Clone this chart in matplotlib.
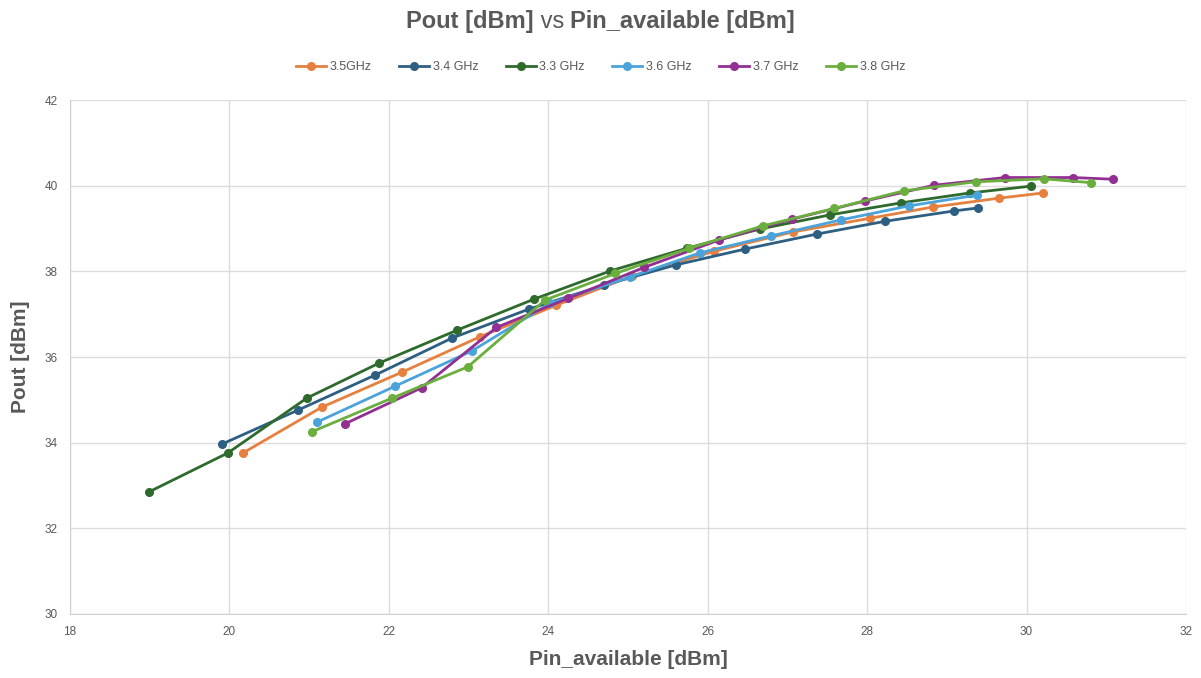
import matplotlib
matplotlib.use("Agg")
import matplotlib.pyplot as plt

# Pin_available [dBm] / Pout [dBm] sweeps per frequency
pin_35 = [20.17, 21.16, 22.17, 23.14, 24.10, 25.05, 26.08, 27.07, 28.04, 28.82, 29.66, 30.21]
pout_35 = [33.76, 34.83, 35.65, 36.47, 37.21, 37.89, 38.47, 38.92, 39.24, 39.50, 39.71, 39.83]

pin_34 = [19.91, 20.86, 21.83, 22.79, 23.76, 24.70, 25.60, 26.47, 27.37, 28.23, 29.09, 29.39]
pout_34 = [33.97, 34.76, 35.58, 36.44, 37.12, 37.68, 38.15, 38.52, 38.87, 39.17, 39.41, 39.48]

pin_33 = [18.99, 19.98, 20.97, 21.88, 22.86, 23.82, 24.78, 25.74, 26.66, 27.54, 28.43, 29.29, 30.06]
pout_33 = [32.85, 33.76, 35.04, 35.86, 36.63, 37.35, 38.01, 38.54, 38.99, 39.32, 39.60, 39.83, 39.99]

pin_36 = [21.10, 22.08, 23.04, 24.02, 25.03, 25.90, 26.80, 27.67, 28.53, 29.38]
pout_36 = [34.48, 35.32, 36.14, 37.25, 37.87, 38.43, 38.83, 39.20, 39.53, 39.78]

pin_37 = [21.45, 22.41, 23.35, 24.25, 25.20, 26.14, 27.06, 27.97, 28.84, 29.73, 30.58, 31.09]
pout_37 = [34.44, 35.28, 36.69, 37.37, 38.09, 38.73, 39.22, 39.64, 40.01, 40.19, 40.19, 40.15]

pin_38 = [21.04, 22.04, 22.99, 23.96, 24.84, 25.77, 26.69, 27.59, 28.46, 29.36, 30.22, 30.81]
pout_38 = [34.26, 35.04, 35.77, 37.33, 37.95, 38.54, 39.06, 39.47, 39.88, 40.09, 40.16, 40.07]

labels = ["3.5GHz", "3.4 GHz", "3.3 GHz", "3.6 GHz", "3.7 GHz", "3.8 GHz"]
colors = ["#E5803F", "#2D5F82", "#2F6A2D", "#4AA3DA", "#932F92", "#6AAE3E"]
series = [(pin_35, pout_35), (pin_34, pout_34), (pin_33, pout_33),
          (pin_36, pout_36), (pin_37, pout_37), (pin_38, pout_38)]

x_ticks = [18, 20, 22, 24, 26, 28, 30, 32]
y_ticks = [30, 32, 34, 36, 38, 40, 42]

plt.rcParams['font.family'] = ['Liberation Sans', 'DejaVu Sans']
text_gray = "#595959"

fig = plt.figure(figsize=(12.01, 6.78), dpi=100)
ax = fig.add_axes([0.0583, 0.0944, 0.9292, 0.7581])

for (x, y), lab, col in zip(series, labels, colors):
    ax.plot(x, y, color=col, linewidth=2.0, marker="o", markersize=5.5,
            label=lab, solid_joinstyle="round")

ax.set_xlim(18, 32)
ax.set_ylim(30, 42)
ax.set_xticks(x_ticks)
ax.set_yticks(y_ticks)
ax.grid(True, color="#dcdcdc", linewidth=1.0)
ax.set_axisbelow(True)
for side in ["top", "right"]:
    ax.spines[side].set_visible(False)
for side in ["left", "bottom"]:
    ax.spines[side].set_color("#d0d0d0")
ax.tick_params(length=0, labelsize=8.5, colors=text_gray, pad=9)

ax.set_xlabel("Pin_available [dBm]", fontsize=15, fontweight="bold",
              color=text_gray, labelpad=8)
ax.set_ylabel("Pout [dBm]", fontsize=15, fontweight="bold",
              color=text_gray, labelpad=10)

# three-part title: bold / regular / bold
title_y = 0.968
title_size = 17
fig.text(0.5, title_y, "Pout [dBm]", ha="right", va="center",
         fontsize=title_size, fontweight="bold", color=text_gray)
fig.text(0.5, title_y, " vs ", ha="left", va="center", fontsize=title_size,
         color=text_gray)
fig.canvas.draw()
bb = fig.texts[-1].get_window_extent()
fig.text(bb.x1 / fig.bbox.width, title_y, "Pin_available [dBm]", ha="left",
         va="center", fontsize=title_size, fontweight="bold", color=text_gray)

# re-center the title parts as one line
fig.canvas.draw()
parts = fig.texts[-3:]
x0 = min(p.get_window_extent().x0 for p in parts)
x1 = max(p.get_window_extent().x1 for p in parts)
shift = (fig.bbox.width / 2 - (x0 + x1) / 2) / fig.bbox.width
for p in parts:
    px, py = p.get_position()
    p.set_position((px + shift, py))

fig.legend(loc="center", bbox_to_anchor=(0.5, 0.901), ncol=6, frameon=False,
           fontsize=9, labelcolor=text_gray, handlelength=2.4,
           columnspacing=2.2, handletextpad=0.3)

fig.savefig("out.png", dpi=100)
